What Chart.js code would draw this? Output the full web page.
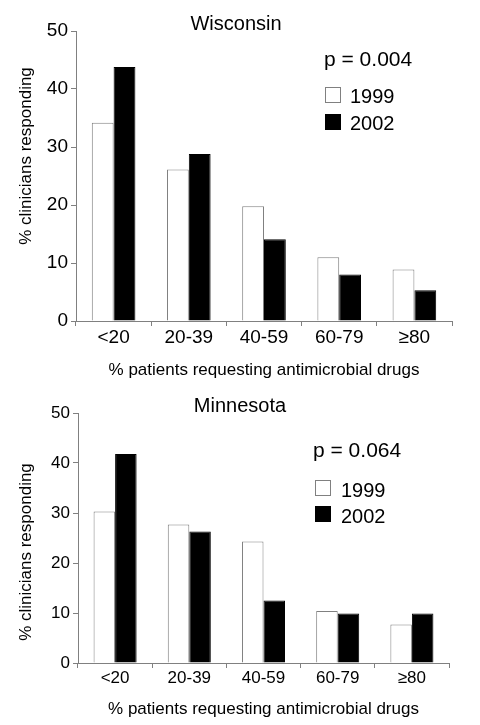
<!DOCTYPE html>
<html>
<head>
<meta charset="utf-8">
<title>Clinicians responding</title>
<script src="https://cdn.jsdelivr.net/npm/chart.js@4.4.1/dist/chart.umd.min.js"></script>
<style>
  html, body { margin: 0; padding: 0; background: #fff; }
  #page { position: relative; width: 480px; height: 725px; overflow: hidden; }
  .panel { position: absolute; left: 0; width: 480px; }
  #wi_box { top: 0; height: 385px; }
  #mn_box { top: 385px; height: 340px; }
</style>
</head>
<body>
<div id="page">
  <div class="panel" id="wi_box"><canvas id="wi_chart" width="480" height="385"></canvas></div>
  <div class="panel" id="mn_box"><canvas id="mn_chart" width="480" height="340"></canvas></div>
</div>
<script>
const categories = ["<20", "20-39", "40-59", "60-79", "≥80"];
const years = ["1999", "2002"];

// Wisconsin
const wisconsin1999 = [34.2, 26.1, 19.8, 11.0, 8.9];
const wisconsin2002 = [43.8, 28.8, 14.1, 8.0, 5.3];
// Minnesota
const minnesota1999 = [30.3, 27.7, 24.3, 10.4, 7.7];
const minnesota2002 = [41.8, 26.3, 12.5, 9.9, 9.9];

const yTicks = [0, 10, 20, 30, 40, 50];
const pValues = ["p = 0.004", "p = 0.064"];

const xTitle = "% patients requesting antimicrobial drugs";
const yTitle = "% clinicians responding";

const FONT = '"Liberation Sans", Arial, sans-serif';
const AXIS_GREY = "#808080";

// title, p value, legend and y title drawn on top of the chart
const panelText = {
  id: "panelText",
  afterDraw(chart, args, opts) {
    const ctx = chart.ctx;
    ctx.save();
    ctx.fillStyle = "#000";
    ctx.textBaseline = "alphabetic";

    ctx.font = opts.titleSize + "px " + FONT;
    ctx.textAlign = "center";
    ctx.fillText(opts.title, opts.titleX, opts.titleY);

    ctx.font = opts.pSize + "px " + FONT;
    ctx.textAlign = "left";
    ctx.fillText(opts.pText, opts.pX, opts.pY);

    ctx.font = opts.legendSize + "px " + FONT;
    chart.data.datasets.forEach((ds, i) => {
      const top = opts.boxTops[i];
      ctx.fillStyle = ds.backgroundColor;
      ctx.fillRect(opts.boxX, top, 15, 15);
      ctx.strokeStyle = ds.borderColor;
      ctx.lineWidth = 1;
      ctx.strokeRect(opts.boxX + 0.5, top + 0.5, 15, 15);
      ctx.fillStyle = "#000";
      ctx.fillText(ds.label, opts.textX, opts.textBaselines[i]);
    });

    ctx.translate(opts.yTitleX, opts.yTitleY);
    ctx.rotate(-Math.PI / 2);
    ctx.font = opts.yTitleSize + "px " + FONT;
    ctx.textAlign = "center";
    ctx.textBaseline = "middle";
    ctx.fillText(yTitle, 0, 0);
    ctx.restore();
  },
};

function makePanel(canvasId, values1999, values2002, setup) {
  const ctx = document.getElementById(canvasId);
  return new Chart(ctx, {
    type: "bar",
    data: {
      labels: categories,
      datasets: [
        {
          label: years[0],
          data: values1999,
          backgroundColor: "#ffffff",
          borderColor: AXIS_GREY,
          borderWidth: 1,
        },
        {
          label: years[1],
          data: values2002,
          backgroundColor: "#000000",
          borderColor: "#000000",
          borderWidth: 1,
        },
      ],
    },
    options: {
      responsive: false,
      animation: false,
      devicePixelRatio: 1,
      categoryPercentage: 0.58,
      barPercentage: 1.0,
      layout: { padding: setup.padding },
      plugins: {
        legend: { display: false },
        title: { display: false },
        tooltip: { enabled: false },
        panelText: setup.text,
      },
      scales: {
        x: {
          grid: { drawOnChartArea: false, drawTicks: true, tickLength: 5, color: AXIS_GREY },
          border: { display: true, color: AXIS_GREY },
          ticks: { color: "#000", font: { family: FONT, size: setup.tickSize }, padding: setup.xTickPad },
          title: {
            display: true,
            text: xTitle,
            color: "#000",
            font: { family: FONT, size: setup.xTitleSize },
            padding: { top: 0, bottom: setup.xTitlePad },
          },
          afterFit(scale) { scale.height = setup.xHeight; },
        },
        y: {
          min: yTicks[0],
          max: yTicks[yTicks.length - 1],
          afterBuildTicks(scale) { scale.ticks = yTicks.map((v) => ({ value: v })); },
          grid: { drawOnChartArea: false, drawTicks: true, tickLength: 5, color: AXIS_GREY },
          border: { display: true, color: AXIS_GREY },
          ticks: { color: "#000", font: { family: FONT, size: setup.tickSize }, padding: 3 },
          afterFit(scale) { scale.width = setup.yWidth; },
        },
      },
    },
    plugins: [panelText],
  });
}

document.addEventListener("DOMContentLoaded", () => {
  makePanel("wi_chart", wisconsin1999, wisconsin2002, {
    padding: { top: 31, right: 28, bottom: 0, left: 0 },
    tickSize: 19,
    xTickPad: 0,
    xTitleSize: 17,
    xTitlePad: 4,
    xHeight: 64,
    yWidth: 76,
    text: {
      title: "Wisconsin", titleSize: 20, titleX: 236, titleY: 30,
      pSize: 21, pText: pValues[0], pX: 324, pY: 66,
      legendSize: 20, boxX: 325, boxTops: [87, 114], textX: 350, textBaselines: [103, 130],
      yTitleSize: 17, yTitleX: 26, yTitleY: 156,
    },
  });

  makePanel("mn_chart", minnesota1999, minnesota2002, {
    padding: { top: 28, right: 31, bottom: 0, left: 0 },
    tickSize: 17,
    xTickPad: 0,
    xTitleSize: 17,
    xTitlePad: 5,
    xHeight: 62,
    yWidth: 78,
    text: {
      title: "Minnesota", titleSize: 20, titleX: 240, titleY: 27,
      pSize: 21, pText: pValues[1], pX: 313, pY: 72,
      legendSize: 20, boxX: 315, boxTops: [95, 121], textX: 341, textBaselines: [112, 138],
      yTitleSize: 17, yTitleX: 26, yTitleY: 167,
    },
  });
});
</script>
</body>
</html>
